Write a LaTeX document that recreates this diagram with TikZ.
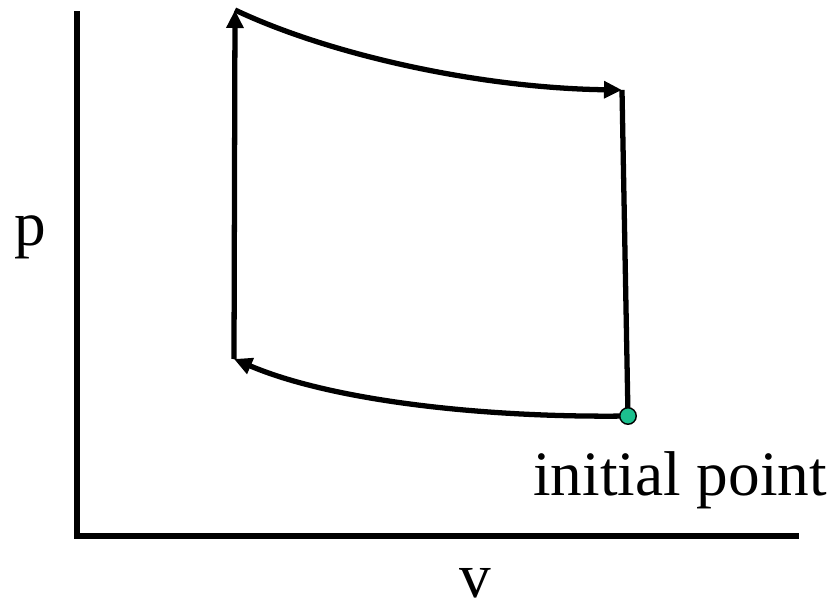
\documentclass[tikz,border=0pt]{standalone}
\usepackage{fontspec}
\setmainfont{Liberation Serif}
\usetikzlibrary{arrows.meta}
\definecolor{dotfill}{HTML}{1CC08E}

\begin{document}
\begin{tikzpicture}[x=0.02cm, y=-0.02cm, every node/.style={font=\fontsize{36}{40}\selectfont, inner sep=0pt},
      axis/.style={line width=3.2pt, line cap=rect},
      path/.style={line width=3pt, line join=miter},
      arr/.style={path, -{Triangle[length=0.36cm, width=0.33cm]}},
      state/.style={circle, draw=black, line width=0.8pt, fill=dotfill, minimum size=0.33cm}]
    \useasboundingbox (0,0) rectangle (833,602);
    \coordinate (origin) at (77,536);
    \coordinate (ytop) at (77,14);
    \coordinate (xend) at (796,536);
    \coordinate (p1) at (628,416);
    \coordinate (p2) at (234,359);
    \coordinate (p3) at (235,10);
    \coordinate (p4) at (622,90);
    \node[anchor=base west] (plabel) at (14,245) {p};
    \node[anchor=base west, text depth=0pt] (vlabel) at (459,597) {v};
    \node[anchor=base west] (initlabel) at (533,495) {initial point};
    \draw[axis] (ytop) -- (origin) -- (xend);
    \draw[arr] (p1) .. controls (480,418) and (330,400) .. (p2);
    \draw[arr] (p2) -- (p3);
    \draw[arr] (p3) .. controls (330,55) and (480,88) .. (p4);
    \draw[path] (p4) -- (p1);
    \node[state] (init) at (p1) {};
  \end{tikzpicture}
\end{document}
